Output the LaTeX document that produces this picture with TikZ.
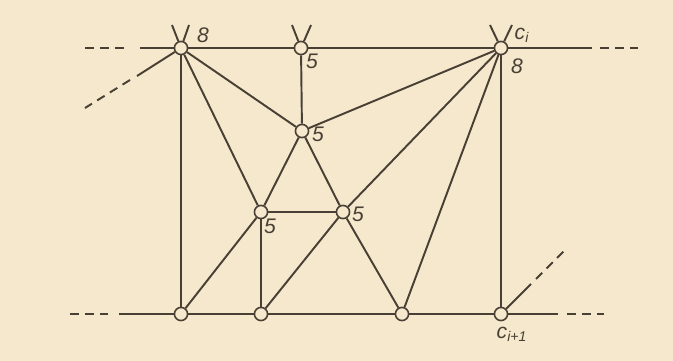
\documentclass[tikz,border=0pt]{standalone}
\usepackage{fontspec}
\setsansfont{Liberation Sans}
\definecolor{paper}{RGB}{246,232,204}
\definecolor{ink}{RGB}{72,64,52}
\tikzset{
  pt/.style={circle,draw=ink,fill=paper,line width=0.9pt,inner sep=0pt,minimum size=7.5pt},
  edge/.style={draw=ink,line width=1.1pt},
  ext/.style={draw=ink,line width=1.1pt,dash pattern=on 5pt off 3.5pt},
  lbl/.style={text=ink,font=\sffamily\itshape\fontsize{12}{12}\selectfont,inner sep=0pt}
}
\begin{document}
\begin{tikzpicture}[x=0.02cm,y=-0.02cm]
\fill[paper] (0,0) rectangle (673,361);
\useasboundingbox (0,0) rectangle (673,361);
% vertices
\node[pt] (A) at (181,48) {};
\node[pt] (B) at (301,48) {};
\node[pt] (C) at (501,48) {};
\node[pt] (D) at (302,131) {};
\node[pt] (E) at (261,212) {};
\node[pt] (F) at (343,212) {};
\node[pt] (G) at (181,314) {};
\node[pt] (H) at (261,314) {};
\node[pt] (I) at (402,314) {};
\node[pt] (J) at (501,314) {};
% loose ends
\coordinate (tl) at (140,48);  \coordinate (tr) at (592,48);
\coordinate (bl) at (119,314); \coordinate (br) at (558,314);
\coordinate (a1) at (172,25);  \coordinate (a2) at (189,25);
\coordinate (b1) at (292,25);  \coordinate (b2) at (311,25);
\coordinate (c1) at (490,25);  \coordinate (c2) at (512,25);
\coordinate (ad) at (137,76);  \coordinate (jd) at (531,284);
% top and bottom rows
\draw[edge] (tl) -- (A) -- (B) -- (C) -- (tr);
\draw[edge] (bl) -- (G) -- (H) -- (I) -- (J) -- (br);
\draw[ext] (85,48) -- (128,48);
\draw[ext] (600,48) -- (638,48);
\draw[ext] (70,314) -- (108,314);
\draw[ext] (567,314) -- (604,314);
% stubs
\draw[edge] (a1) -- (A) -- (a2);
\draw[edge] (b1) -- (B) -- (b2);
\draw[edge] (c1) -- (C) -- (c2);
\draw[edge] (A) -- (ad);
\draw[ext] (130,80) -- (85,108);
\draw[edge] (J) -- (jd);
\draw[ext] (536,279) -- (566,249);
% inner edges
\draw[edge] (A) -- (G);
\draw[edge] (A) -- (E);
\draw[edge] (A) -- (D);
\draw[edge] (B) -- (D);
\draw[edge] (C) -- (D);
\draw[edge] (C) -- (F);
\draw[edge] (C) -- (I);
\draw[edge] (C) -- (J);
\draw[edge] (D) -- (E);
\draw[edge] (D) -- (F);
\draw[edge] (E) -- (F);
\draw[edge] (E) -- (H);
\draw[edge] (E) -- (G);
\draw[edge] (F) -- (H);
\draw[edge] (F) -- (I);
% labels
\node[lbl] (lA) at (203,35) {8};
\node[lbl] (lB) at (312,61) {5};
\node[lbl] (lC) at (522,35) {c\textsubscript{i}};
\node[lbl] (lC8) at (517,66) {8};
\node[lbl] (lD) at (318,134) {5};
\node[lbl] (lE) at (270,226) {5};
\node[lbl] (lF) at (358,214) {5};
\node[lbl] (lJ) at (512,334) {c\textsubscript{i+1}};
\end{tikzpicture}
\end{document}
